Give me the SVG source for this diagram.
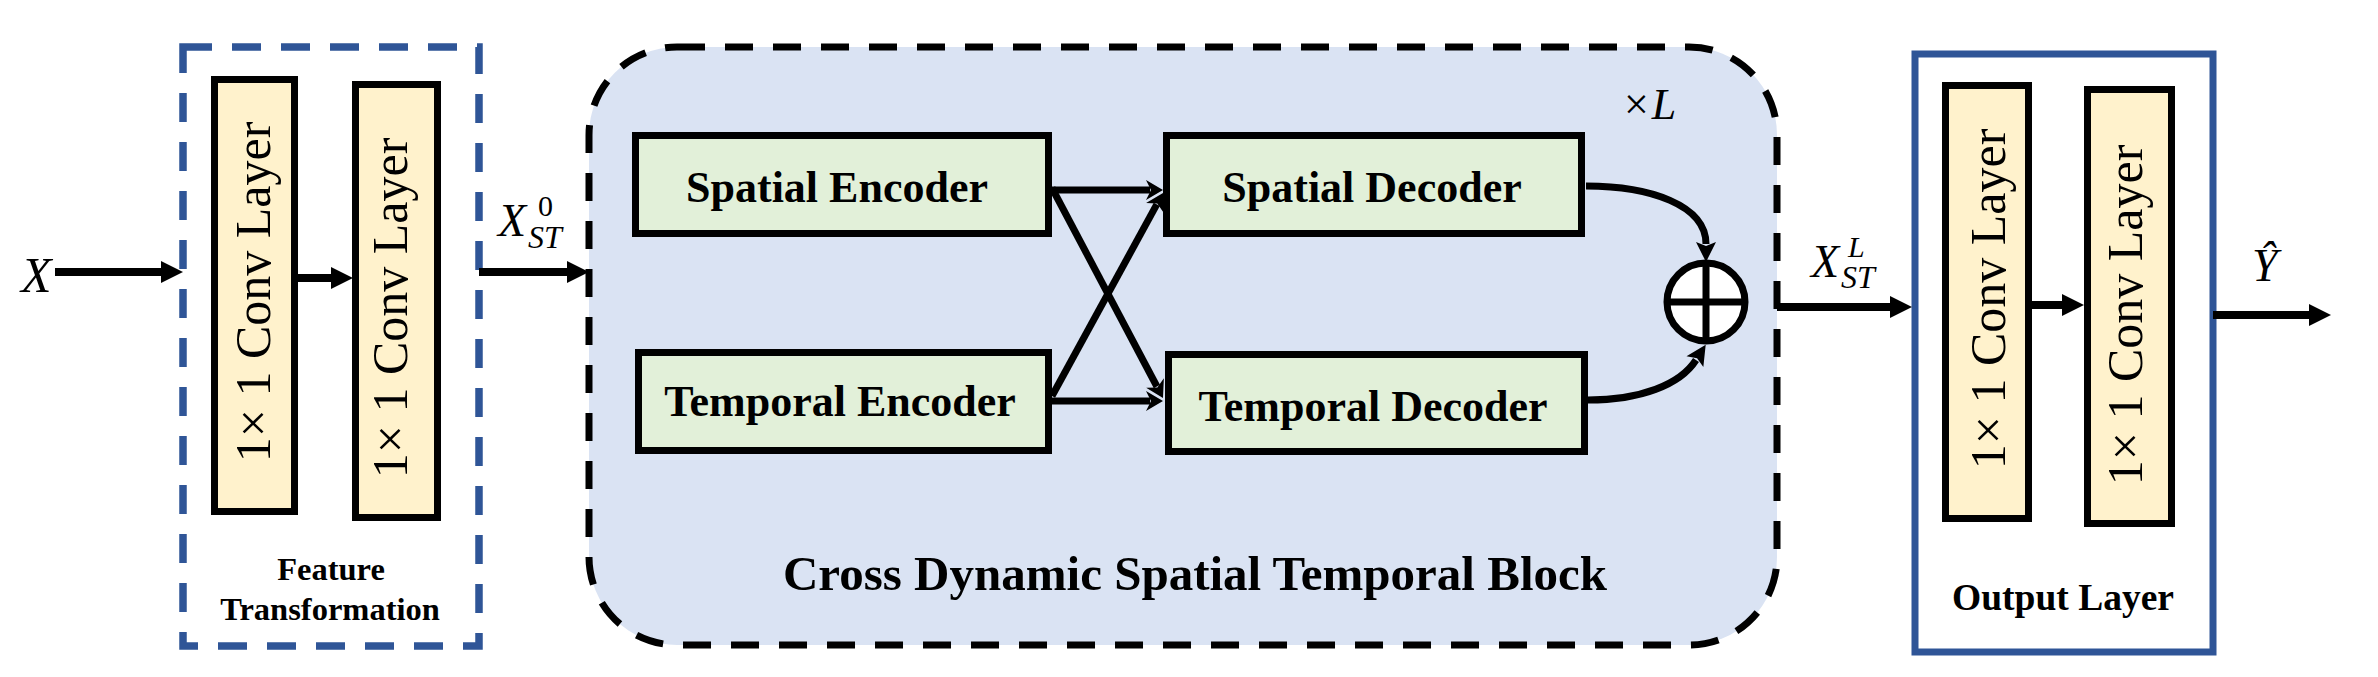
<svg xmlns="http://www.w3.org/2000/svg" width="2378" height="677" viewBox="0 0 2378 677">
<style>
  .serif { font-family: "Liberation Serif", "Times New Roman", serif; fill: #000; }
  .b { font-weight: bold; }
  .i { font-style: italic; }
  .conv { fill: #FFF2CC; stroke: #000; stroke-width: 7; }
  .enc { fill: #E2F0D9; stroke: #000; stroke-width: 7; }
  .ln { fill: none; stroke: #000; stroke-width: 8; }
  .ln7 { fill: none; stroke: #000; stroke-width: 7; }
</style>
<defs>
  <marker id="ah" markerUnits="userSpaceOnUse" markerWidth="30" markerHeight="30" viewBox="0 -15 30 30" refX="0" refY="0" orient="auto" overflow="visible">
    <path d="M0,-11 L22,0 L0,11 Z" fill="#000"/>
  </marker>
  <marker id="ahm" markerUnits="userSpaceOnUse" markerWidth="30" markerHeight="30" viewBox="0 -15 30 30" refX="0" refY="0" orient="auto" overflow="visible">
    <path d="M-2,-10 L18,0 L-2,10 L2,0 Z" fill="#000"/>
  </marker>
  <marker id="ahs" markerUnits="userSpaceOnUse" markerWidth="30" markerHeight="30" viewBox="0 -15 30 30" refX="0" refY="0" orient="auto" overflow="visible">
    <path d="M-4,-10 L13,0 L-4,10 L1,0 Z" fill="#000"/>
  </marker>
</defs>
<rect width="2378" height="677" fill="#fff"/>

<g id="feature-transformation">
  <rect x="183" y="47" width="296" height="599" fill="none" stroke="#2F5597" stroke-width="7.5" stroke-dasharray="29 20"/>
  <text class="serif b" x="331" y="580" font-size="32.5" text-anchor="middle">Feature</text>
  <text class="serif b" x="330" y="620" font-size="32.5" text-anchor="middle">Transformation</text>
</g>
<g id="conv1">
  <rect class="conv" x="214.5" y="79.5" width="80" height="432"/>
  <text class="serif" font-size="50" text-anchor="middle" transform="translate(270,292) rotate(-90)">1× 1 Conv Layer</text>
</g>
<g id="conv2">
  <rect class="conv" x="355.5" y="84.5" width="82" height="433"/>
  <text class="serif" font-size="50" text-anchor="middle" transform="translate(407,308) rotate(-90)">1× 1 Conv Layer</text>
</g>

<g id="cdst-block">
  <rect x="589" y="47" width="1188" height="598" rx="88" ry="88" fill="#DAE3F3" stroke="#000" stroke-width="7" stroke-dasharray="28 20"/>
  <text class="serif b" x="1195" y="590" font-size="49" text-anchor="middle">Cross Dynamic Spatial Temporal Block</text>
  <text class="serif" x="1624" y="119" font-size="44">×<tspan class="i" dx="3">L</tspan></text>
</g>
<g id="spatial-encoder">
  <rect class="enc" x="635.5" y="135.5" width="413" height="98"/>
  <text class="serif b" x="837" y="202" font-size="44" text-anchor="middle">Spatial Encoder</text>
</g>
<g id="temporal-encoder">
  <rect class="enc" x="638.5" y="352.5" width="410" height="98"/>
  <text class="serif b" x="840" y="416" font-size="44" text-anchor="middle">Temporal Encoder</text>
</g>
<g id="spatial-decoder">
  <rect class="enc" x="1166.5" y="135.5" width="415" height="98"/>
  <text class="serif b" x="1372" y="202" font-size="44" text-anchor="middle">Spatial Decoder</text>
</g>
<g id="temporal-decoder">
  <rect class="enc" x="1168.5" y="354.5" width="416" height="97"/>
  <text class="serif b" x="1373" y="421" font-size="44" text-anchor="middle">Temporal Decoder</text>
</g>
<g id="sum">
  <circle cx="1706" cy="302" r="39" fill="#fff" stroke="#000" stroke-width="7"/>
  <line x1="1667" y1="302" x2="1745" y2="302" stroke="#000" stroke-width="7"/>
  <line x1="1706" y1="263" x2="1706" y2="341" stroke="#000" stroke-width="7"/>
</g>

<g id="output-layer">
  <rect x="1915" y="54" width="298" height="598" fill="#fff" stroke="#2F5597" stroke-width="7"/>
  <text class="serif b" x="2063" y="610" font-size="37.5" text-anchor="middle">Output Layer</text>
</g>
<g id="conv3">
  <rect class="conv" x="1945.5" y="85.5" width="83" height="433"/>
  <text class="serif" font-size="50" text-anchor="middle" transform="translate(2005,299) rotate(-90)">1× 1 Conv Layer</text>
</g>
<g id="conv4">
  <rect class="conv" x="2087.5" y="89.5" width="84" height="434"/>
  <text class="serif" font-size="50" text-anchor="middle" transform="translate(2142,315) rotate(-90)">1× 1 Conv Layer</text>
</g>

<g id="labels">
  <text class="serif i" x="21" y="292" font-size="50">X</text>
  <text class="serif i" x="498" y="236" font-size="46">X</text>
  <text class="serif" x="538" y="216" font-size="30">0</text>
  <text class="serif i" x="528" y="248" font-size="32">ST</text>
  <text class="serif i" x="1811" y="277" font-size="46">X</text>
  <text class="serif i" x="1848" y="257" font-size="30">L</text>
  <text class="serif i" x="1841" y="288" font-size="32">ST</text>
  <text class="serif i" x="2252" y="281" font-size="46">Ŷ</text>
</g>

<g id="connectors">
  <path class="ln" d="M55,272 L161,272" marker-end="url(#ah)"/>
  <path class="ln" d="M298,278 L331,278" marker-end="url(#ah)"/>
  <path class="ln" d="M479,272 L567,272" marker-end="url(#ah)"/>
  <path class="ln7" d="M1052,190 L1150,190" marker-end="url(#ahs)"/>
  <path class="ln7" d="M1052,401 L1150,401" marker-end="url(#ahs)"/>
  <path class="ln7" d="M1052,188 L1156.9,386.5" marker-end="url(#ahs)"/>
  <path class="ln7" d="M1052,396 L1156.8,204.4" marker-end="url(#ahs)"/>
  <path class="ln7" d="M1586,186 C1650,186 1706,205 1706,244" marker-end="url(#ahm)"/>
  <path class="ln7" d="M1588,400 C1640,400 1680,385 1696,360" marker-end="url(#ahm)"/>
  <path class="ln" d="M1777,307 L1890,307" marker-end="url(#ah)"/>
  <path class="ln" d="M2032,305 L2062,305" marker-end="url(#ah)"/>
  <path class="ln" d="M2213,315 L2309,315" marker-end="url(#ah)"/>
</g>
</svg>
